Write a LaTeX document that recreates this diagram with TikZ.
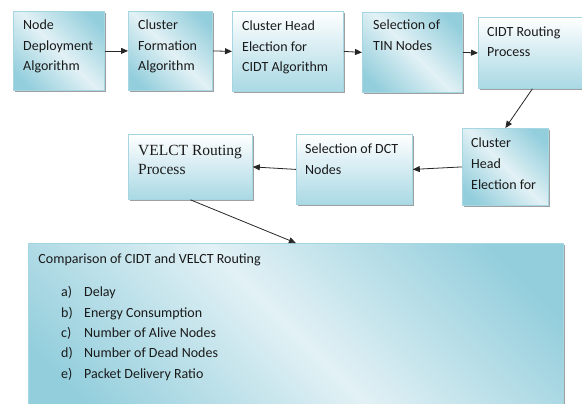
\documentclass[tikz,border=0pt]{standalone}
\usepackage{fontspec}
\setmainfont{Carlito}
\newfontfamily\velfont{Liberation Serif}
\usetikzlibrary{arrows.meta,shadows}
\definecolor{dkb}{HTML}{93CEDC}
\definecolor{ltb}{HTML}{E2F1F5}
\definecolor{vbot}{HTML}{A9D9E4}
\definecolor{vmid}{HTML}{DCEFF4}
\definecolor{edgeb}{HTML}{A6D6E2}
\definecolor{shad}{HTML}{A0A0A0}
\definecolor{txtc}{HTML}{1A1A1A}
\pgfdeclarehorizontalshading{diagblue}{100bp}{color(0bp)=(dkb); color(22bp)=(dkb); color(50bp)=(ltb); color(78bp)=(dkb); color(100bp)=(dkb)}
\pgfdeclareverticalshading{vertblue}{100bp}{color(0bp)=(vbot); color(25bp)=(vbot); color(55bp)=(vmid); color(75bp)=(white); color(100bp)=(white)}
\begin{document}
\begin{tikzpicture}[x=1bp,y=-1bp,
  boxbase/.style={draw=edgeb, line width=0.8bp, inner sep=0, anchor=north west,
    drop shadow={shadow xshift=1.6bp, shadow yshift=-1.6bp, fill=shad, opacity=1}},
  diagbox/.style={boxbase, shading=diagblue, shading angle=45},
  vertbox/.style={boxbase, shading=vertblue},
  txt/.style={inner sep=0, anchor=base west, text=txtc, font=\fontsize{14bp}{20.7bp}\selectfont},
  arr/.style={draw=black!85, line width=0.8bp, -{Triangle[length=7bp,width=6bp]}}]
\useasboundingbox (0,0) rectangle (582,403);
\clip (0,0) rectangle (582,403);
% boxes
\node[diagbox, minimum width=91bp, minimum height=79bp] (b1) at (13,11) {};
\node[diagbox, minimum width=84bp, minimum height=79bp] (b2) at (128,11) {};
\node[vertbox, minimum width=111bp, minimum height=80bp] (b3) at (232,11) {};
\node[diagbox, minimum width=100bp, minimum height=80bp] (b4) at (362,12) {};
\node[vertbox, minimum width=108bp, minimum height=71bp] (b5) at (478,17) {};
\node[diagbox, minimum width=86bp, minimum height=77bp] (b6) at (462,128) {};
\node[vertbox, minimum width=116bp, minimum height=70bp] (b7) at (296,134) {};
\node[vertbox, minimum width=124bp, minimum height=65bp] (b8) at (128,134) {};
\node[diagbox, minimum width=535bp, minimum height=180bp] (b9) at (28,243) {};
% texts
\node[txt] (t1) at (23,29.5) {\parbox[t]{120bp}{Node\\Deployment\\Algorithm}};
\node[txt] (t2) at (138,29.5) {\parbox[t]{120bp}{Cluster\\Formation\\Algorithm}};
\node[txt] (t3) at (242,30.5) {\parbox[t]{120bp}{Cluster Head\\Election for\\CIDT Algorithm}};
\node[txt] (t4) at (373,29.5) {\parbox[t]{120bp}{Selection of\\TIN Nodes}};
\node[txt] (t5) at (487,36) {\parbox[t]{120bp}{CIDT Routing\\Process}};
\node[txt] (t6) at (471,147.7) {\parbox[t]{120bp}{Cluster\\Head\\Election for}};
\node[txt] (t7) at (305,153.7) {\parbox[t]{120bp}{Selection of DCT\\Nodes}};
\node[txt, font=\velfont\fontsize{15.5bp}{19.5bp}\selectfont] (t8) at (138,155) {\parbox[t]{120bp}{VELCT Routing\\Process}};
\node[txt] (t9) at (38.3,263.3) {Comparison of CIDT and VELCT Routing};
\node[txt, font=\fontsize{14bp}{20.4bp}\selectfont] (t10) at (61,296.7) {\parbox[t]{250bp}{%
  \makebox[23bp][l]{a)}Delay\\
  \makebox[23bp][l]{b)}Energy Consumption\\
  \makebox[23bp][l]{c)}Number of Alive Nodes\\
  \makebox[23bp][l]{d)}Number of Dead Nodes\\
  \makebox[23bp][l]{e)}Packet Delivery Ratio}};
% connectors
\draw[arr] (b1.east) -- (b2.west);
\draw[arr] (b2.east) -- (b3.west);
\draw[arr] (b3.east) -- (b4.west);
\draw[arr] (b4.east) -- (b5.west);
\draw[arr] (b5.south) -- (b6.north);
\draw[arr] (b6.west) -- (b7.east);
\draw[arr] (b7.west) -- (b8.east);
\draw[arr] (b8.south) -- (b9.north);
\end{tikzpicture}
\end{document}
